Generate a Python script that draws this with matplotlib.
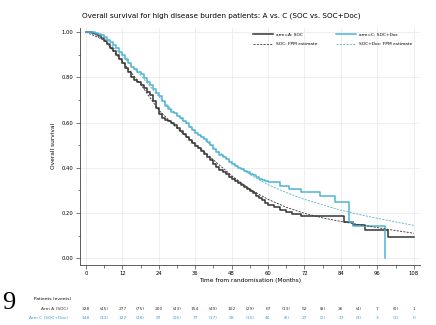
import matplotlib
matplotlib.use("Agg")
import matplotlib.pyplot as plt
from matplotlib.ticker import MultipleLocator, FormatStrFormatter
import matplotlib.transforms as mtransforms

# Kaplan-Meier, arm A (SOC): monthly to 60, then sparse steps
km_a_t = list(range(0, 61)) + [62, 64, 66, 68, 71, 85, 88, 92, 99.5, 108]
km_a_s = [1.0, 1.0, 0.995, 0.99, 0.985, 0.975, 0.962, 0.948, 0.932, 0.915,
          0.897, 0.88, 0.862, 0.843, 0.822, 0.80, 0.788, 0.778, 0.768, 0.753,
          0.737, 0.72, 0.695, 0.665, 0.638, 0.622, 0.613, 0.606, 0.598, 0.588,
          0.576, 0.564, 0.55, 0.537, 0.522, 0.508, 0.498, 0.487, 0.476, 0.462,
          0.447, 0.432, 0.418, 0.403, 0.39, 0.38, 0.37, 0.36, 0.352, 0.343,
          0.334, 0.325, 0.316, 0.307, 0.298, 0.288, 0.277, 0.266, 0.256, 0.246,
          0.236,
          0.225, 0.215, 0.203, 0.195, 0.185, 0.16, 0.145, 0.125, 0.095, 0.095]

# Kaplan-Meier, arm C (SOC+Doc)
km_c_t = list(range(0, 61)) + [64, 67, 71, 77, 82, 86.5, 88, 98.5, 98.6]
km_c_s = [1.0, 1.0, 1.0, 0.997, 0.993, 0.987, 0.977, 0.966, 0.955, 0.942,
          0.928, 0.914, 0.899, 0.882, 0.864, 0.846, 0.835, 0.825, 0.813, 0.797,
          0.781, 0.765, 0.748, 0.731, 0.716, 0.695, 0.673, 0.658, 0.648, 0.64,
          0.631, 0.62, 0.608, 0.596, 0.582, 0.568, 0.555, 0.545, 0.535, 0.525,
          0.514, 0.5, 0.485, 0.47, 0.458, 0.447, 0.437, 0.427, 0.418, 0.408,
          0.4, 0.394, 0.387, 0.38, 0.374, 0.366, 0.358, 0.35, 0.345, 0.341,
          0.338,
          0.32, 0.308, 0.293, 0.275, 0.25, 0.16, 0.14, 0.0, 0.0]

# flexible parametric model estimates
fpm_t = [0, 6, 12, 18, 24, 30, 36, 42, 48, 54, 60, 66, 72, 78, 84, 90, 96, 102, 108]
fpm_a = [1.0, 0.965, 0.87, 0.77, 0.655, 0.575, 0.505, 0.435, 0.365, 0.305, 0.26,
         0.225, 0.198, 0.178, 0.162, 0.148, 0.135, 0.122, 0.11]
fpm_c = [1.0, 0.975, 0.895, 0.81, 0.715, 0.635, 0.56, 0.49, 0.425, 0.37, 0.325,
         0.29, 0.26, 0.235, 0.212, 0.193, 0.176, 0.16, 0.145]

# numbers at risk (every 12 months) and events (between)
risk_t = [0, 12, 24, 36, 48, 60, 72, 84, 96, 108]
risk_a = [328, 277, 200, 154, 102, 67, 52, 26, 7, 1]
events_a = [45, 75, 43, 49, 29, 13, 8, 4, 0]
risk_c = [148, 122, 97, 77, 58, 40, 27, 17, 3, 0]
events_c = [33, 28, 26, 17, 15, 6, 2, 3, 1]

col_a = "#333333"
col_c = "#52b4d3"
col_c_txt = "#3a9fd6"

fig = plt.figure(figsize=(4.36, 3.25), dpi=100)
ax = fig.add_axes([0.183, 0.185, 0.78, 0.73])

ax.plot(km_a_t, km_a_s, drawstyle="steps-post", color=col_a, lw=1.1, label="arm=A: SOC")
ax.plot(km_c_t, km_c_s, drawstyle="steps-post", color=col_c, lw=1.1, label="arm=C: SOC+Doc")
ax.plot(fpm_t, fpm_a, color=col_a, lw=0.6, ls=(0, (2.5, 1.5)), label="SOC: FPM estimate")
ax.plot(fpm_t, fpm_c, color=col_c, lw=0.6, ls=(0, (2.5, 1.5)), label="SOC+Doc: FPM estimate")

# legend order: row 1 solid lines, row 2 dashed
h, l = ax.get_legend_handles_labels()
order = [0, 2, 1, 3]
ax.legend([h[i] for i in order], [l[i] for i in order], ncol=2, loc="upper right",
          bbox_to_anchor=(0.99, 0.995), frameon=False, fontsize=3.2,
          handlelength=4.5, columnspacing=4, labelspacing=1.2)

ax.set_xlim(-2, 110)
ax.set_ylim(-0.03, 1.02)
ax.xaxis.set_major_locator(MultipleLocator(12))
ax.xaxis.set_minor_locator(MultipleLocator(6))
ax.yaxis.set_major_locator(MultipleLocator(0.2))
ax.yaxis.set_minor_locator(MultipleLocator(0.1))
ax.yaxis.set_major_formatter(FormatStrFormatter("%.2f"))
ax.tick_params(which="both", labelsize=3.8, width=0.5, color="#444444", pad=1.5)
ax.tick_params(which="major", length=3)
ax.tick_params(which="minor", length=1.8)
for s in ["top", "right"]:
    ax.spines[s].set_visible(False)
for s in ["left", "bottom"]:
    ax.spines[s].set_linewidth(0.6)
    ax.spines[s].set_color("#444444")
ax.grid(True, which="major", color="#ebebeb", lw=0.6)
ax.set_axisbelow(True)

ax.set_xlabel("Time from randomisation (Months)", fontsize=4.2, labelpad=1)
ax.set_ylabel("Overall survival", fontsize=4.2, labelpad=4)
fig.text(0.507, 0.953, "Overall survival for high disease burden patients: A vs. C (SOC vs. SOC+Doc)",
         ha="center", va="center", fontsize=5.2)

# risk table
trans = mtransforms.blended_transform_factory(ax.transData, fig.transFigure)
y_a = 1 - 309.0 / 325
y_c = 1 - 318.0 / 325
fig.text(0.078, 1 - 299.0 / 325, "Patients (events)", fontsize=3.2, va="center")
fig.text(0.156, y_a, "Arm A (SOC)", fontsize=3.2, va="center", ha="right", color="#333333")
fig.text(0.156, y_c, "Arm C (SOC+Doc)", fontsize=3.2, va="center", ha="right", color=col_c_txt)
for i, t in enumerate(risk_t):
    ax.text(t, y_a, str(risk_a[i]), transform=trans, fontsize=3.2, ha="center", va="center", color="#333333")
    ax.text(t, y_c, str(risk_c[i]), transform=trans, fontsize=3.2, ha="center", va="center", color=col_c_txt)
    if i < len(events_a):
        ax.text(t + 6, y_a, "(%d)" % events_a[i], transform=trans, fontsize=3.2, ha="center",
                va="center", color="#333333")
        ax.text(t + 6, y_c, "(%d)" % events_c[i], transform=trans, fontsize=3.2, ha="center",
                va="center", color=col_c_txt)

fig.text(0.006, 1 - 303.0 / 325, "9", fontsize=19, family="Liberation Serif", va="center", ha="left")

fig.savefig("out.png", dpi=100)
